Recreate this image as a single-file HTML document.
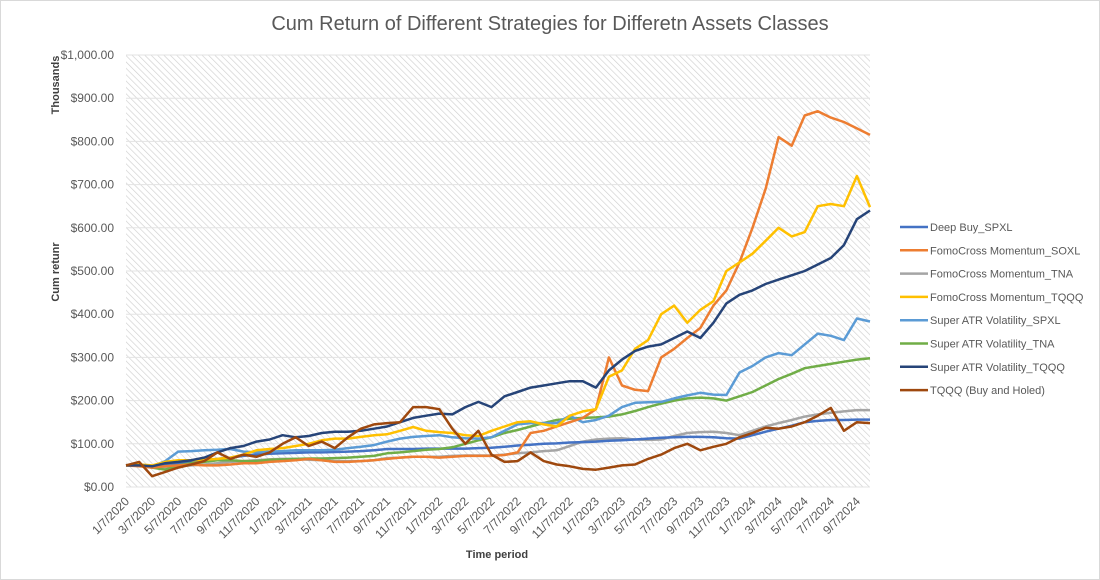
<!DOCTYPE html>
<html><head><meta charset="utf-8"><style>
html,body{margin:0;padding:0;background:#fff;}
svg{display:block;font-family:"Liberation Sans",Arial,sans-serif;}
</style></head><body>
<svg id="chart" width="1100" height="580" viewBox="0 0 1100 580">
<defs>
<pattern id="hatch" width="4.5" height="4.5" patternUnits="userSpaceOnUse" patternTransform="rotate(-45)">
<line x1="0" y1="0" x2="0" y2="4.5" stroke="#cfcfcf" stroke-width="1.3"/>
</pattern>
</defs>
<rect x="0.5" y="0.5" width="1099" height="579" fill="#fff" stroke="#d9d9d9"/>
<text x="550" y="30" text-anchor="middle" font-size="20" fill="#595959">Cum Return of Different Strategies for Differetn Assets Classes</text>
<rect x="126" y="55" width="744" height="432" fill="url(#hatch)"/>
<g id="grid"></g>
<g id="yticks"></g>
<g id="xticks"></g>
<g id="series"></g>
<g id="legend"></g>
<text transform="translate(59,85) rotate(-90)" text-anchor="middle" font-size="11" font-weight="bold" fill="#404040">Thousands</text>
<text transform="translate(59,272) rotate(-90)" text-anchor="middle" font-size="11" font-weight="bold" fill="#404040">Cum retunr</text>
<text x="497" y="558" text-anchor="middle" font-size="11" font-weight="bold" fill="#404040">Time period</text>
</svg>
<script>
const yTicks = [0,100,200,300,400,500,600,700,800,900,1000];
const yTickLabels = ["$0.00","$100.00","$200.00","$300.00","$400.00","$500.00","$600.00","$700.00","$800.00","$900.00","$1,000.00"];
const xTickLabels = ["1/7/2020","3/7/2020","5/7/2020","7/7/2020","9/7/2020","11/7/2020","1/7/2021","3/7/2021","5/7/2021","7/7/2021","9/7/2021","11/7/2021","1/7/2022","3/7/2022","5/7/2022","7/7/2022","9/7/2022","11/7/2022","1/7/2023","3/7/2023","5/7/2023","7/7/2023","9/7/2023","11/7/2023","1/7/2024","3/7/2024","5/7/2024","7/7/2024","9/7/2024"];
const months = [0,1,2,3,4,5,6,7,8,9,10,11,12,13,14,15,16,17,18,19,20,21,22,23,24,25,26,27,28,29,30,31,32,33,34,35,36,37,38,39,40,41,42,43,44,45,46,47,48,49,50,51,52,53,54,55,56,57];
const seriesNames = ["Deep Buy_SPXL","FomoCross Momentum_SOXL","FomoCross Momentum_TNA","FomoCross Momentum_TQQQ","Super ATR Volatility_SPXL","Super ATR Volatility_TNA","Super ATR Volatility_TQQQ","TQQQ (Buy and Holed)"];
const deepBuySPXL = [50,50,48,50,55,58,62,65,68,72,75,77,78,79,80,80,81,82,83,85,88,88,88,89,89,89,89,90,91,93,96,98,100,101,103,104,105,107,108,110,112,114,115,116,116,115,113,112,120,128,135,142,150,153,155,155,156,156];
const fomoSOXL = [50,48,45,48,50,52,50,50,52,55,55,58,60,62,65,62,58,58,60,62,65,68,70,70,68,70,72,72,72,74,80,125,130,140,150,160,180,300,235,225,222,300,320,345,368,420,455,520,600,690,810,790,860,870,855,845,830,815];
const fomoTNA = [50,50,45,45,48,50,52,55,58,60,62,64,65,65,63,62,60,60,60,62,67,68,70,70,70,72,73,73,73,75,78,80,83,85,95,105,110,112,113,110,109,110,118,125,127,128,125,120,130,140,148,155,163,168,172,175,178,178];
const fomoTQQQ = [50,52,50,58,62,62,63,65,68,75,85,88,90,95,100,108,112,112,116,120,122,130,139,130,127,125,120,118,130,140,150,152,145,140,165,175,180,255,270,320,340,400,420,380,410,430,500,520,540,570,600,580,590,650,655,650,720,648];
const atrSPXL = [50,52,48,60,82,83,85,86,88,82,80,82,83,85,85,85,86,90,93,97,105,112,116,118,120,115,113,112,115,130,145,148,148,148,165,150,155,165,185,195,196,197,205,212,218,214,213,265,280,300,310,305,330,355,350,340,390,383];
const atrTNA = [50,50,45,40,50,55,58,62,62,60,60,63,64,65,66,66,67,68,70,72,78,80,83,86,88,92,100,108,115,125,132,140,148,155,158,160,161,163,168,176,185,193,200,205,207,205,200,210,220,235,250,262,275,280,285,290,295,298];
const atrTQQQ = [50,50,48,55,58,62,68,80,90,95,105,110,120,115,118,125,128,128,130,135,140,150,160,165,170,168,185,197,185,210,220,230,235,240,245,245,230,270,295,315,325,330,345,360,345,380,425,445,455,470,480,490,500,515,530,560,620,640];
const tqqqBH = [50,58,25,35,45,52,60,80,65,75,70,80,100,115,95,105,90,115,135,145,148,150,185,185,180,135,100,130,75,58,60,80,60,52,48,42,40,45,50,52,65,75,90,100,85,93,100,115,125,137,135,140,150,165,183,130,150,148];
const seriesData = [deepBuySPXL,fomoSOXL,fomoTNA,fomoTQQQ,atrSPXL,atrTNA,atrTQQQ,tqqqBH];
const seriesColors = ["#4472C4","#ED7D31","#A5A5A5","#FFC000","#5B9BD5","#70AD47","#264478","#9E480E"];
const seriesKeys = ["deep-buy-spxl","fomo-soxl","fomo-tna","fomo-tqqq","atr-spxl","atr-tna","atr-tqqq","tqqq-buy-hold"];
const drawOrder = [2,0,5,4,1,3,6,7];

const NS = "http://www.w3.org/2000/svg";
const X0 = 126, X1 = 870, Y0 = 487, Y1 = 55;
const xScale = m => X0 + m * (X1 - X0) / 57;
const yScale = v => Y0 - v * (Y0 - Y1) / 1000;
function mk(tag, attrs, parent){ const e = document.createElementNS(NS, tag); for (const k in attrs) e.setAttribute(k, attrs[k]); parent.appendChild(e); return e; }

const grid = document.getElementById('grid'), yt = document.getElementById('yticks');
yTicks.forEach((v,i) => {
  const l = mk('line', {x1:X0, x2:X1, y1:yScale(v), y2:yScale(v), stroke:'#e3e3e3', 'stroke-width':1}, grid);
  
  
  const t = mk('text', {x:114, y:yScale(v)+4, 'text-anchor':'end', 'font-size':12, fill:'#595959'}, yt);
  t.textContent = yTickLabels[i];
  
  
});
const xt = document.getElementById('xticks');
xTickLabels.forEach((s,i) => {
  const x = xScale(i*2), y = 497;
  const t = mk('text', {x:x+4, y:y+5, 'text-anchor':'end', 'font-size':12, fill:'#595959', transform:`rotate(-45 ${x+4} ${y+5})`}, xt);
  t.textContent = s;
  
  
});
const sg = document.getElementById('series');
drawOrder.forEach(i => {
  const pts = seriesData[i].map((v,j) => xScale(months[j]).toFixed(1) + ',' + yScale(v).toFixed(1)).join(' ');
  const p = mk('polyline', {points:pts, fill:'none', stroke:seriesColors[i], 'stroke-width':2.5, 'stroke-linejoin':'round'}, sg);
  
  
});
const lg = document.getElementById('legend');
seriesNames.forEach((n,i) => {
  const y = 227 + i*23.3;
  const g = mk('g', {}, lg);
  
  
  mk('line', {x1:900, x2:928, y1:y, y2:y, stroke:seriesColors[i], 'stroke-width':2.5}, g);
  const t = mk('text', {x:930, y:y+4, 'font-size':11, fill:'#595959'}, g);
  t.textContent = n;
});
</script>
</body></html>
